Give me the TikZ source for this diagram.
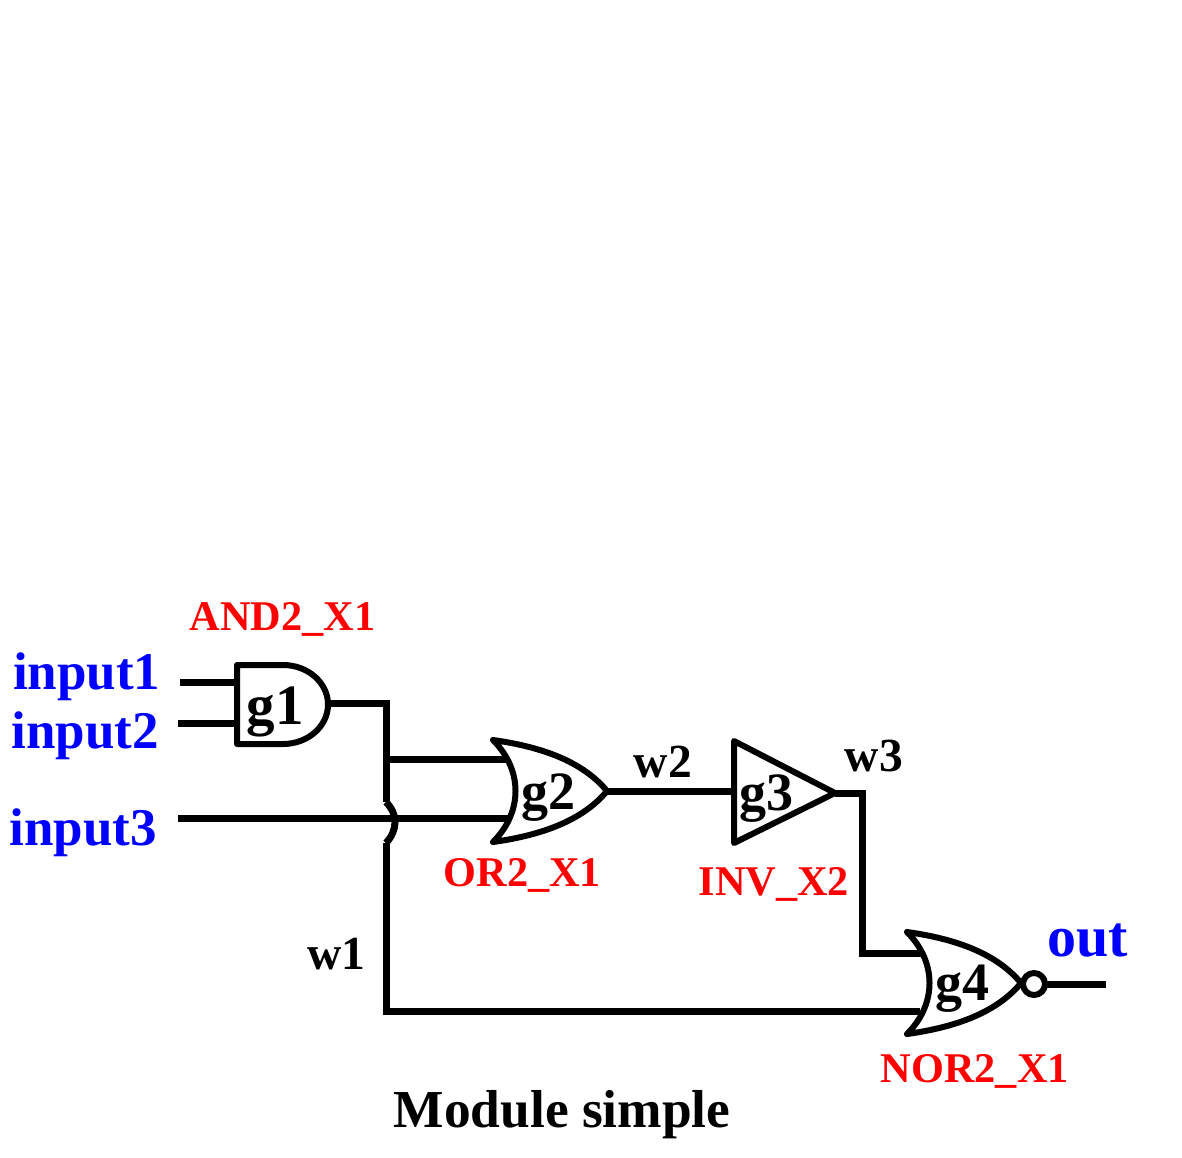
\documentclass[tikz,border=0pt]{standalone}
\usepackage{fontspec}
\setmainfont{Liberation Serif}
\tikzset{
    wire/.style={line width=7pt},
    gateline/.style={line width=6pt,line join=round,fill=white},
    txt/.style={inner sep=0pt,anchor=base west,font=\bfseries\fontsize{#1}{#1}\selectfont},
    pinlabel/.style={txt=53,text=blue},
    celllabel/.style={txt=42.3,text=red},
    wirelabel/.style={txt=47.5},
    gatelabel/.style={txt=54},
}
\begin{document}
\begin{tikzpicture}[x=1pt,y=-1pt]
    \useasboundingbox (0,0) rectangle (1182,1157);
    %% wire ends
    \coordinate (in1) at (180,682);
    \coordinate (in2) at (178,723);
    \coordinate (in3) at (178,818);
    \coordinate (outend) at (1106,984.5);
    \coordinate (g1a) at (237,682);
    \coordinate (g1b) at (237,723);
    \coordinate (g1y) at (328,703.5);
    \coordinate (g2a) at (510,759);
    \coordinate (g2b) at (510,818);
    \coordinate (g2y) at (607,791);
    \coordinate (g3a) at (734,791);
    \coordinate (g3y) at (835,793);
    \coordinate (g4a) at (922,953.5);
    \coordinate (g4b) at (920,1011.5);
    \coordinate (g4y) at (1045,984.5);
    \coordinate (w1top) at (386,703.5);
    \coordinate (w1mid) at (386,759);
    \coordinate (hopa) at (386,802);
    \coordinate (hopb) at (386,843);
    \coordinate (w1low) at (386,1011.5);
    \coordinate (w3top) at (862,793);
    \coordinate (w3low) at (862,953.5);
    %% wires
    \draw[wire] (in1) -- (g1a);
    \draw[wire] (in2) -- (g1b);
    \draw[wire] (in3) -- (g2b);
    \draw[wire] (g1y) -- (w1top) -- (hopa);
    \draw[wire] (hopa) .. controls (398,814) and (398,830) .. (hopb);
    \draw[wire] (hopb) -- (w1low) -- (g4b);
    \draw[wire] (w1mid) -- (g2a);
    \draw[wire] (g2y) -- (g3a);
    \draw[wire] (g3y) -- (w3top) -- (w3low) -- (g4a);
    \draw[wire] (g4y) -- (outend);
    %% gates
    \draw[gateline] (237,665) -- (283,665) arc (-90:90:45 and 39.5) -- (237,744) -- cycle;
    \foreach \x/\y in {493/740,907/932} {
        \draw[gateline] (\x,\y) .. controls (\x+50,\y+7) and (\x+90,\y+22) .. (\x+114,\y+51)
            .. controls (\x+90,\y+80) and (\x+50,\y+95) .. (\x,\y+102)
            .. controls (\x+30,\y+72) and (\x+30,\y+30) .. cycle;
    }
    \draw[gateline] (734,741) -- (835,793) -- (734,843) -- cycle;
    \draw[line width=6pt,fill=white] (1034,984) circle (11);
    %% labels
    \node[pinlabel] (input1) at (13,689) {input1};
    \node[pinlabel] (input2) at (11.5,748) {input2};
    \node[pinlabel] (input3) at (9.5,845) {input3};
    \node[txt=58,text=blue] (outlabel) at (1047.5,956) {out};
    \node[celllabel] (andcell) at (189.5,630) {AND2\_X1};
    \node[celllabel] (orcell) at (443.5,886) {OR2\_X1};
    \node[celllabel] (invcell) at (698.5,895) {INV\_X2};
    \node[celllabel] (norcell) at (880.5,1082) {NOR2\_X1};
    \node[txt=57] (g1) at (246.5,724) {g1};
    \node[gatelabel] (g2) at (521.5,809) {g2};
    \node[gatelabel] (g3) at (739,810) {g3};
    \node[gatelabel] (g4) at (935,1000) {g4};
    \node[wirelabel] (w1) at (307.5,969) {w1};
    \node[wirelabel] (w2) at (633.5,777) {w2};
    \node[wirelabel] (w3) at (844.5,771) {w3};
    \node[txt=53.4] (title) at (393.5,1127) {Module simple};
\end{tikzpicture}
\end{document}
